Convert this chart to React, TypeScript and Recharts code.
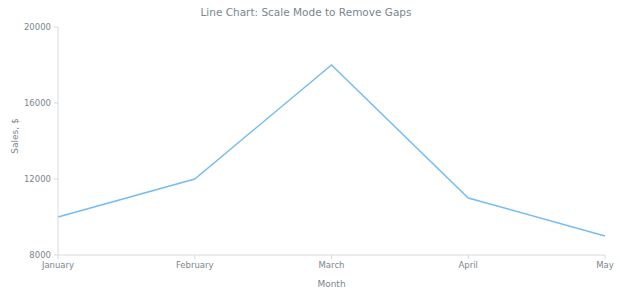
import React from 'react'
import { CartesianGrid, Line, LineChart, XAxis, YAxis } from 'recharts'

const months = ['January', 'February', 'March', 'April', 'May']
const sales = [10000, 12000, 18000, 11000, 9000]
const yTicks = [8000, 12000, 16000, 20000]

const rows = months.map((month, i) => ({ month, sales: sales[i] }))

const textColor = '#7c868e'
const axisColor = '#d6dadd'
const font = '"DejaVu Sans", Verdana, sans-serif'

export default function App() {
  return (
    <div style={{ position: 'absolute', left: 0, top: 0, width: 620, height: 300, background: '#fff', fontFamily: font }}>
      <div
        style={{
          position: 'absolute',
          top: 6,
          left: -4,
          width: 620,
          textAlign: 'center',
          fontSize: 10.5,
          color: textColor,
        }}
      >
        Line Chart: Scale Mode to Remove Gaps
      </div>
      <LineChart width={620} height={300} data={rows} margin={{ top: 27, right: 15, bottom: 4, left: 0 }}>
        <CartesianGrid stroke="none" />
        <XAxis
          dataKey="month"
          height={41}
          interval={0}
          tick={{ fill: textColor, fontSize: 8.5, fontFamily: font }}
          axisLine={{ stroke: axisColor }}
          tickLine={{ stroke: axisColor }}
          tickSize={4}
          tickMargin={3}
          label={{ value: 'Month', position: 'insideBottom', offset: 9, fill: textColor, fontSize: 9, fontFamily: font }}
        />
        <YAxis
          domain={[8000, 20000]}
          ticks={yTicks}
          width={58}
          tick={{ fill: textColor, fontSize: 8.5, fontFamily: font }}
          axisLine={{ stroke: axisColor }}
          tickLine={{ stroke: axisColor }}
          tickSize={4}
          tickMargin={3}
          label={{ value: 'Sales, $', angle: -90, position: 'insideLeft', offset: 15, dy: -5, fill: textColor, fontSize: 9, fontFamily: font, style: { textAnchor: 'middle' } }}
        />
        <Line type="linear" dataKey="sales" stroke="#74bcf2" strokeWidth={1.4} dot={false} isAnimationActive={false} />
      </LineChart>
    </div>
  )
}
